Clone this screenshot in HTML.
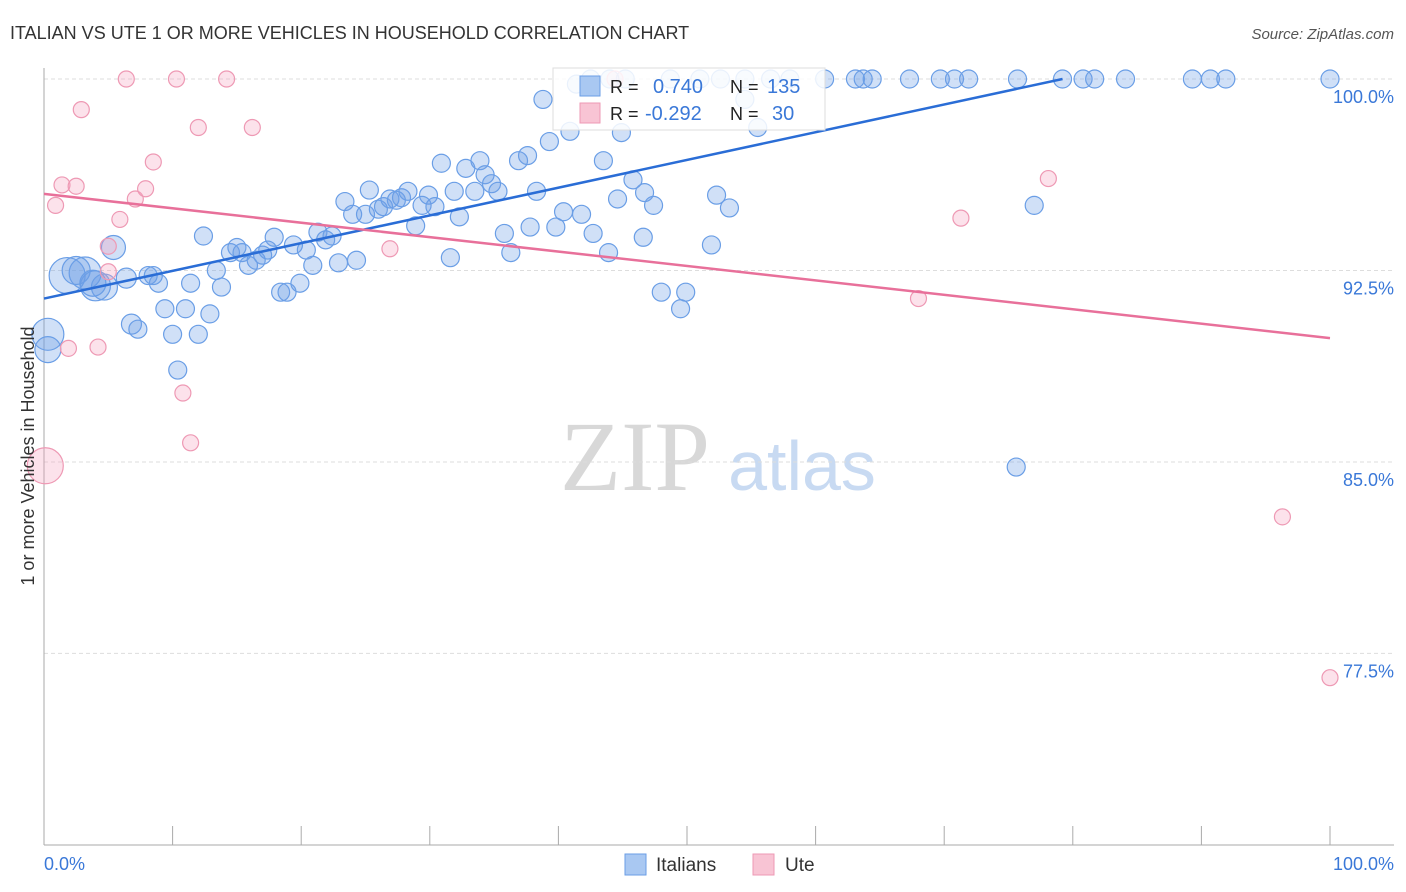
<!DOCTYPE html>
<html><head><meta charset="utf-8">
<style>
body{margin:0;background:#fff;font-family:"Liberation Sans",sans-serif;}
#wrap{position:relative;width:1406px;height:892px;overflow:hidden;}
</style></head>
<body>
<div id="wrap">
<svg id="svg" width="1406" height="892" xmlns="http://www.w3.org/2000/svg">
<text x="10" y="39" font-size="18" fill="#333">ITALIAN VS UTE 1 OR MORE VEHICLES IN HOUSEHOLD CORRELATION CHART</text>
<text x="1394" y="39" font-size="15" fill="#555" text-anchor="end" font-style="italic">Source: ZipAtlas.com</text>
<text x="635" y="490" font-size="100" fill="#d8d8d8" text-anchor="middle" font-family="Liberation Serif,serif">ZIP</text>
<text x="802" y="490" font-size="70" fill="#c8daf2" text-anchor="middle">atlas</text>
<g id="grid"></g>
<g id="axes"></g>
<g id="pts"></g>
<g id="trend"></g>
<text transform="translate(34,456) rotate(-90)" font-size="18" fill="#333" text-anchor="middle">1 or more Vehicles in Household</text>
<text x="44" y="870" font-size="18" fill="#3a78d8">0.0%</text>
<text x="1394" y="870" font-size="18" fill="#3a78d8" text-anchor="end">100.0%</text>
<g>
<rect x="553" y="68" width="272" height="62" fill="#fff" fill-opacity="0.85" stroke="#ddd"/>
<rect x="580" y="76" width="20" height="20" fill="#a9c8f2" stroke="#6a9ee6"/>
<rect x="580" y="103" width="20" height="20" fill="#f8c4d4" stroke="#ee99b4"/>
<text x="610" y="93" font-size="18" fill="#222">R =</text>
<text x="653" y="93" font-size="20" fill="#3a78d8">0.740</text>
<text x="730" y="93" font-size="18" fill="#222">N =</text>
<text x="767" y="93" font-size="20" fill="#3a78d8">135</text>
<text x="610" y="120" font-size="18" fill="#222">R =</text>
<text x="645" y="120" font-size="20" fill="#3a78d8">-0.292</text>
<text x="730" y="120" font-size="18" fill="#222">N =</text>
<text x="772" y="120" font-size="20" fill="#3a78d8">30</text>
</g>
<g>
<rect x="625" y="854" width="21" height="21" fill="#a9c8f2" stroke="#6a9ee6"/>
<text x="656" y="871" font-size="19" fill="#333">Italians</text>
<rect x="753" y="854" width="21" height="21" fill="#f8c4d4" stroke="#ee99b4"/>
<text x="785" y="871" font-size="19" fill="#333">Ute</text>
</g>
</svg>
</div>
<script>
const yTicks=[100,92.5,85,77.5];
const yTickLabels=["100.0%","92.5%","85.0%","77.5%"];
const xTicks=[0,10,20,30,40,50,60,70,80,90,100];
const italX=[0.3,0.3,1.8,3.2,4.0,4.7,5.4,6.4,8.1,8.5,8.9,6.8,7.3,9.4,10.0,10.4,11.0,11.4,12.0,12.4,12.9,13.4,13.8,14.5,15.0,15.4,15.9,16.5,17.0,17.4,17.9,18.4,18.9,19.4,19.9,20.4,20.9,21.3,21.9,22.4,22.9,23.4,24.0,24.3,25.0,25.3,26.0,26.4,26.9,27.4,27.8,28.3,28.9,29.4,29.9,30.4,30.9,31.6,31.9,32.3,32.8,33.5,33.9,34.3,34.8,35.3,35.8,36.3,36.9,37.6,37.8,38.3,38.8,39.3,39.8,40.4,40.9,41.4,41.8,42.7,43.5,43.9,44.6,44.9,45.8,46.6,46.7,47.4,48.0,49.5,49.9,51.9,52.3,53.3,54.5,55.5,75.6,77.0,2.5,3.8,
42.5,44.0,45.2,48.7,51.0,52.6,54.5,56.5,58.0,60.7,63.1,63.7,64.4,67.3,69.7,70.8,71.9,75.7,79.2,80.8,81.7,84.1,89.3,90.7,91.9,100];
const italY=[90.0,89.4,92.3,92.4,91.9,91.85,93.4,92.2,92.3,92.3,92.0,90.4,90.2,91.0,90.0,88.6,91.0,92.0,90.0,93.85,90.8,92.5,91.85,93.2,93.4,93.2,92.7,92.9,93.1,93.3,93.8,91.65,91.65,93.5,92.0,93.3,92.7,94.0,93.7,93.85,92.8,95.2,94.7,92.9,94.7,95.65,94.9,95.0,95.3,95.25,95.35,95.6,94.25,95.05,95.45,95.0,96.7,93.0,95.6,94.6,96.5,95.6,96.8,96.25,95.9,95.6,93.95,93.2,96.8,97.0,94.2,95.6,99.2,97.55,94.2,94.8,97.95,99.8,94.7,93.95,96.8,93.2,95.3,97.9,96.05,93.8,95.55,95.05,91.65,91.0,91.65,93.5,95.45,94.95,99.2,98.1,84.8,95.05,92.5,92.0,
100,100,100,100,100,100,100,100,100,100,100,100,100,100,100,100,100,100,100,100,100,100,100,100,100,100];
const italR=[16,13,18,16,15,13,12,10,9,9,9,10,9,9,9,9,9,9,9,9,9,9,9,9,9,9,9,9,9,9,9,9,9,9,9,9,9,9,9,9,9,9,9,9,9,9,9,9,9,9,9,9,9,9,9,9,9,9,9,9,9,9,9,9,9,9,9,9,9,9,9,9,9,9,9,9,9,9,9,9,9,9,9,9,9,9,9,9,9,9,9,9,9,9,9,9,9,9,14,13];
const uteX=[0.1,0.9,1.4,1.9,2.5,2.9,4.2,5.0,5.0,5.9,6.4,7.1,7.9,8.5,10.3,10.8,11.4,12.0,14.2,16.2,26.9,44.4,68.0,71.3,78.1,96.3,100];
const uteY=[84.85,95.05,95.85,89.45,95.8,98.8,89.5,93.45,92.45,94.5,100,95.3,95.7,96.75,100,87.7,85.75,98.1,100,98.1,93.35,100,91.4,94.55,96.1,82.85,76.55];
const uteR=[18,8,8,8,8,8,8,8,8,8,8,8,8,8,8,8,8,8,8,8,8,8,8,8,8,8,8];
const italTrendX=[0,79.2], italTrendY=[91.4,100];
const uteTrendX=[0,100], uteTrendY=[95.5,89.85];

const NS="http://www.w3.org/2000/svg";
const sx=v=>44+v*12.86;
const sy=v=>79+(100-v)*25.53;
function mk(tag,attrs,parent){const e=document.createElementNS(NS,tag);for(const k in attrs)e.setAttribute(k,attrs[k]);parent.appendChild(e);return e;}
const grid=document.getElementById('grid'),axes=document.getElementById('axes'),pts=document.getElementById('pts'),trend=document.getElementById('trend');
yTicks.forEach((t,i)=>{
 const l=mk('line',{x1:44,x2:1394,y1:sy(t),y2:sy(t),stroke:'#ddd','stroke-dasharray':'4,3'},grid);
 
 
 const tx=mk('text',{x:1394,y:sy(t)+24,'font-size':18,fill:'#3a78d8','text-anchor':'end'},grid);
 tx.textContent=yTickLabels[i];
 
 
});
const ax=mk('line',{x1:44,x2:44,y1:68,y2:845,stroke:'#aaa'},axes);


const bx=mk('line',{x1:44,x2:1394,y1:845,y2:845,stroke:'#aaa'},axes);


xTicks.forEach(t=>{
 const l=mk('line',{x1:sx(t),x2:sx(t),y1:826,y2:845,stroke:'#aaa'},axes);
 
 
});
italX.forEach((v,i)=>{
 const c=mk('circle',{cx:sx(v),cy:sy(italY[i]),r:italR[i]||9,fill:'rgba(110,160,230,0.32)',stroke:'#6a9ee6','stroke-width':1.2},pts);
 
 
});
uteX.forEach((v,i)=>{
 const c=mk('circle',{cx:sx(v),cy:sy(uteY[i]),r:uteR[i]||8,fill:'rgba(245,160,190,0.3)',stroke:'#ee99b4','stroke-width':1.2},pts);
 
 
});
const t1=mk('line',{x1:sx(italTrendX[0]),y1:sy(italTrendY[0]),x2:sx(italTrendX[1]),y2:sy(italTrendY[1]),stroke:'#2a6dd6','stroke-width':2.5},trend);


const t2=mk('line',{x1:sx(uteTrendX[0]),y1:sy(uteTrendY[0]),x2:sx(uteTrendX[1]),y2:sy(uteTrendY[1]),stroke:'#e8709a','stroke-width':2.5},trend);


</script>
</body></html>
